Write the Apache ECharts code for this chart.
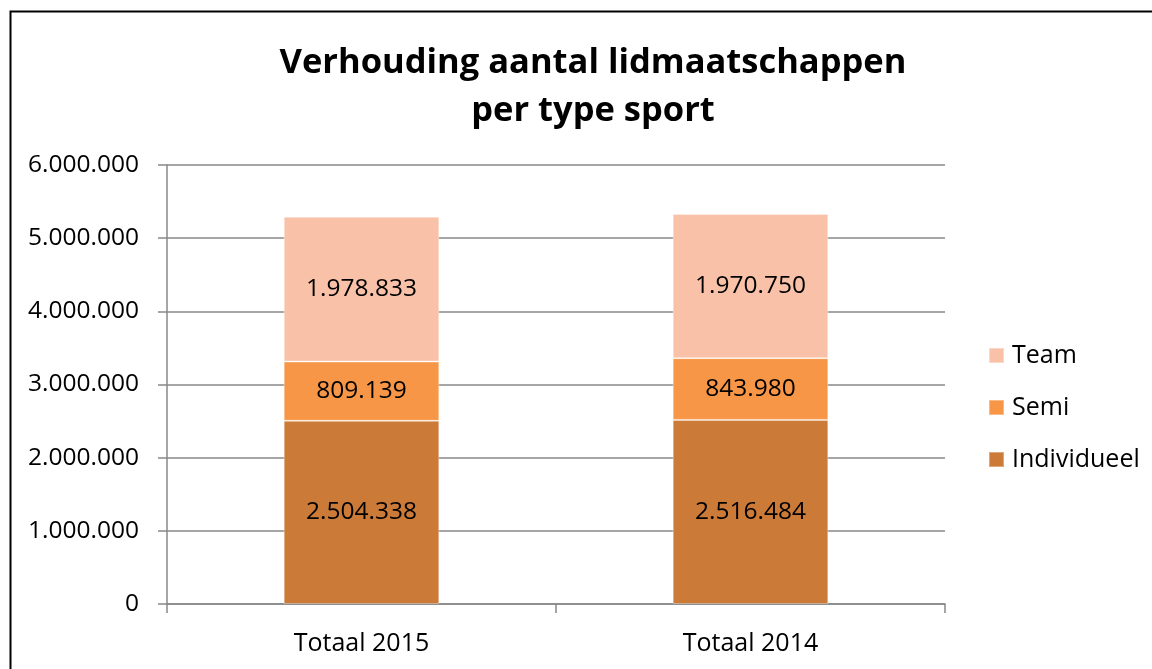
<!DOCTYPE html>
<html><head><meta charset="utf-8">
<script src="https://cdn.jsdelivr.net/npm/echarts@6/dist/echarts.min.js"></script>
<style>html,body{margin:0;padding:0;background:#fff}#c{width:1152px;height:669px}</style>
</head><body><div id="c"></div>
<script>
const categories = ['Totaal 2015', 'Totaal 2014'];
const individueel = [2504338, 2516484];
const semi = [809139, 843980];
const team = [1978833, 1970750];
const seriesNames = ['Individueel', 'Semi', 'Team'];
const yTicks = [0, 1000000, 2000000, 3000000, 4000000, 5000000, 6000000];

const FONT = '"Open Sans", "Noto Sans", sans-serif';
const fmt = v => String(v).replace(/\B(?=(\d{3})+(?!\d))/g, '.');
const colors = ['#CC7A38', '#F79646', '#F9C2A8'];

const chart = echarts.init(document.getElementById('c'), null, {renderer: 'canvas'});
const mk = (name, data, i) => ({
  name, type: 'bar', stack: 'tot', data,
  barCategoryGap: '60%',
  itemStyle: {color: colors[i], borderColor: 'rgba(255,255,255,0.35)', borderWidth: 1},
  label: {show: true, position: 'inside', color: '#000', fontFamily: FONT, fontSize: 24.5,
          formatter: p => fmt(p.value)}
});
chart.setOption({
  animation: false,
  textStyle: {fontFamily: FONT},
  title: {
    text: 'Verhouding aantal lidmaatschappen\nper type sport',
    left: 588, top: 34, textAlign: 'center',
    textStyle: {fontFamily: FONT, fontWeight: 'bold', fontSize: 34.5, lineHeight: 48, color: '#000'}
  },
  graphic: [{type: 'rect', shape: {x: 10.5, y: 11.5, width: 1200, height: 700},
             style: {fill: 'none', stroke: '#000', lineWidth: 2}, silent: true}],
  legend: {
    orient: 'vertical', left: 988, top: 343, padding: 0,
    data: ['Team', 'Semi', 'Individueel'],
    itemWidth: 15, itemHeight: 15, itemGap: 27, icon: 'rect',
    textStyle: {fontFamily: FONT, fontSize: 25, color: '#000', padding: [0, 0, 0, 3]}
  },
  grid: {left: 167, right: 207, top: 165, bottom: 65},
  xAxis: {
    type: 'category', data: categories,
    axisLine: {lineStyle: {color: '#888', width: 1.5}},
    axisTick: {show: true, length: 9, lineStyle: {color: '#888', width: 1.5}},
    axisLabel: {color: '#000', fontFamily: FONT, fontSize: 25, margin: 27}
  },
  yAxis: {
    type: 'value', min: 0, max: 6000000, interval: 1000000,
    axisLine: {show: true, lineStyle: {color: '#888', width: 1.5}},
    axisTick: {show: true, length: 9, lineStyle: {color: '#888', width: 1.5}},
    splitLine: {lineStyle: {color: '#888', width: 1.5}},
    axisLabel: {color: '#000', fontFamily: FONT, fontSize: 24.5, margin: 28, formatter: v => fmt(v)}
  },
  series: [mk(seriesNames[0], individueel, 0), mk(seriesNames[1], semi, 1), mk(seriesNames[2], team, 2)]
});
</script></body></html>
